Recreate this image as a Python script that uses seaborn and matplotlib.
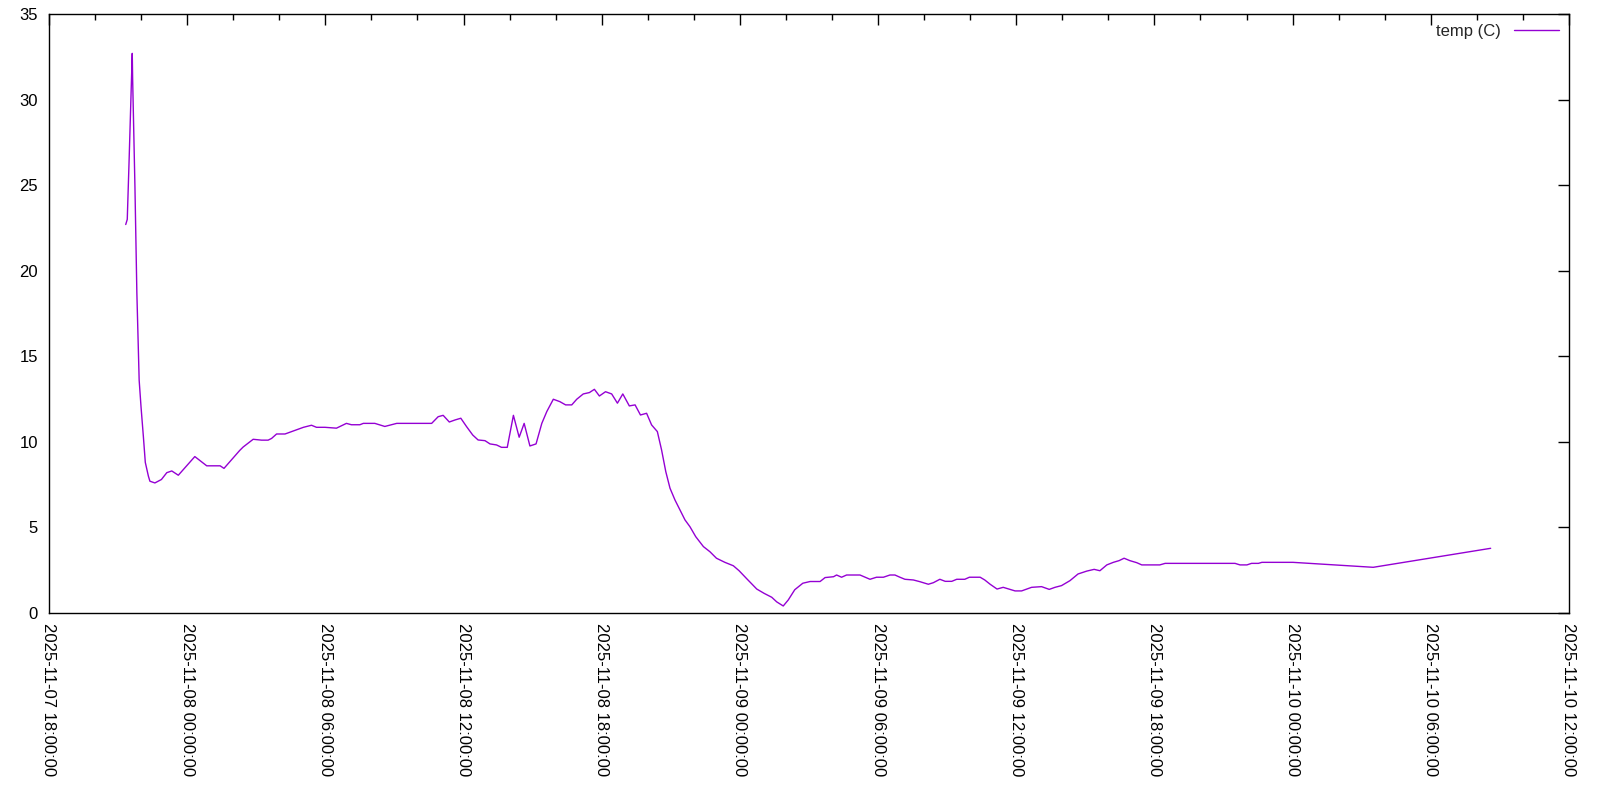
import pandas as pd
import seaborn as sns
import matplotlib.pyplot as plt
import matplotlib.dates as mdates

# gnuplot-like look
sns.set_style("white")
plt.rcParams['font.family'] = ['Liberation Sans', 'DejaVu Sans']
plt.rcParams['font.size'] = 12

# Readings
times = [
    "2025-11-07 21:20", "2025-11-07 21:24", "2025-11-07 21:29", "2025-11-07 21:37",
    "2025-11-07 21:38", "2025-11-07 21:44", "2025-11-07 21:49", "2025-11-07 21:55",
    "2025-11-07 22:00", "2025-11-07 22:06", "2025-11-07 22:11", "2025-11-07 22:19",
    "2025-11-07 22:23", "2025-11-07 22:36", "2025-11-07 22:53", "2025-11-07 23:07",
    "2025-11-07 23:20", "2025-11-07 23:37",
    "2025-11-08 00:20", "2025-11-08 00:51", "2025-11-08 01:26", "2025-11-08 01:36",
    "2025-11-08 02:17", "2025-11-08 02:26", "2025-11-08 02:52", "2025-11-08 03:14",
    "2025-11-08 03:31", "2025-11-08 03:40", "2025-11-08 03:53", "2025-11-08 04:15",
    "2025-11-08 04:45", "2025-11-08 05:03", "2025-11-08 05:24", "2025-11-08 05:37",
    "2025-11-08 05:59", "2025-11-08 06:29", "2025-11-08 06:55", "2025-11-08 07:08",
    "2025-11-08 07:30", "2025-11-08 07:39", "2025-11-08 08:09", "2025-11-08 08:35",
    "2025-11-08 09:06", "2025-11-08 10:37", "2025-11-08 10:54", "2025-11-08 11:07",
    "2025-11-08 11:23", "2025-11-08 11:38", "2025-11-08 11:53", "2025-11-08 12:08",
    "2025-11-08 12:24", "2025-11-08 12:38", "2025-11-08 12:56", "2025-11-08 13:09",
    "2025-11-08 13:26", "2025-11-08 13:39", "2025-11-08 13:54", "2025-11-08 14:10",
    "2025-11-08 14:25", "2025-11-08 14:38", "2025-11-08 14:53", "2025-11-08 15:09",
    "2025-11-08 15:24", "2025-11-08 15:37", "2025-11-08 15:54", "2025-11-08 16:11",
    "2025-11-08 16:26", "2025-11-08 16:42", "2025-11-08 16:55", "2025-11-08 17:12",
    "2025-11-08 17:28", "2025-11-08 17:41", "2025-11-08 17:54", "2025-11-08 18:10",
    "2025-11-08 18:26", "2025-11-08 18:41", "2025-11-08 18:55", "2025-11-08 19:12",
    "2025-11-08 19:27", "2025-11-08 19:41", "2025-11-08 19:57", "2025-11-08 20:10",
    "2025-11-08 20:25", "2025-11-08 20:36", "2025-11-08 20:47", "2025-11-08 20:58",
    "2025-11-08 21:11", "2025-11-08 21:24", "2025-11-08 21:37", "2025-11-08 21:50",
    "2025-11-08 22:05", "2025-11-08 22:25", "2025-11-08 22:42", "2025-11-08 22:59",
    "2025-11-08 23:21", "2025-11-08 23:43", "2025-11-08 23:58",
    "2025-11-09 00:18", "2025-11-09 00:44", "2025-11-09 01:03", "2025-11-09 01:23",
    "2025-11-09 01:36", "2025-11-09 01:53", "2025-11-09 02:06", "2025-11-09 02:23",
    "2025-11-09 02:44", "2025-11-09 03:03", "2025-11-09 03:29", "2025-11-09 03:42",
    "2025-11-09 04:04", "2025-11-09 04:12", "2025-11-09 04:25", "2025-11-09 04:38",
    "2025-11-09 05:13", "2025-11-09 05:39", "2025-11-09 05:56", "2025-11-09 06:14",
    "2025-11-09 06:31", "2025-11-09 06:44", "2025-11-09 06:57", "2025-11-09 07:10",
    "2025-11-09 07:32", "2025-11-09 07:49", "2025-11-09 08:11", "2025-11-09 08:24",
    "2025-11-09 08:41", "2025-11-09 08:55", "2025-11-09 09:12", "2025-11-09 09:25",
    "2025-11-09 09:46", "2025-11-09 09:58", "2025-11-09 10:26", "2025-11-09 10:38",
    "2025-11-09 10:52", "2025-11-09 11:10", "2025-11-09 11:26", "2025-11-09 11:44",
    "2025-11-09 11:57", "2025-11-09 12:14", "2025-11-09 12:40", "2025-11-09 13:06",
    "2025-11-09 13:26", "2025-11-09 13:41", "2025-11-09 13:58", "2025-11-09 14:20",
    "2025-11-09 14:41", "2025-11-09 15:04", "2025-11-09 15:23", "2025-11-09 15:38",
    "2025-11-09 15:56", "2025-11-09 16:13", "2025-11-09 16:28", "2025-11-09 16:41",
    "2025-11-09 16:56", "2025-11-09 17:14", "2025-11-09 17:27", "2025-11-09 18:14",
    "2025-11-09 18:28", "2025-11-09 21:30", "2025-11-09 21:43", "2025-11-09 22:01",
    "2025-11-09 22:13", "2025-11-09 22:31", "2025-11-09 22:40",
    "2025-11-10 00:01", "2025-11-10 03:30", "2025-11-10 08:36",
]
temps = [
    22.7, 23.0, 26.6, 32.7, 31.2, 24.9, 18.7, 13.6,
    12.0, 10.3, 8.8, 8.0, 7.7, 7.6, 7.8, 8.2,
    8.3, 8.05,
    9.14, 8.6, 8.6, 8.45, 9.5, 9.7, 10.15, 10.1,
    10.1, 10.2, 10.46, 10.46, 10.7, 10.85, 10.97, 10.85,
    10.85, 10.8, 11.08, 11.0, 11.0, 11.08, 11.08, 10.9,
    11.08, 11.08, 11.47, 11.55, 11.16, 11.28, 11.38, 10.89,
    10.40, 10.11, 10.07, 9.88, 9.82, 9.68, 9.68, 11.55,
    10.27, 11.08, 9.76, 9.88, 11.08, 11.77, 12.49, 12.35,
    12.16, 12.16, 12.49, 12.80, 12.88, 13.07, 12.68, 12.93,
    12.80, 12.26, 12.80, 12.10, 12.16, 11.57, 11.67, 10.99,
    10.60, 9.53, 8.26, 7.29, 6.60, 6.02, 5.44, 5.04,
    4.46, 3.88, 3.58, 3.20, 2.96, 2.76, 2.47,
    2.0, 1.40, 1.15, 0.92, 0.65, 0.41, 0.76, 1.36,
    1.74, 1.84, 1.84, 2.07, 2.12, 2.22, 2.09, 2.22,
    2.22, 1.97, 2.09, 2.09, 2.22, 2.22, 2.09, 1.97,
    1.93, 1.83, 1.68, 1.77, 1.97, 1.85, 1.85, 1.97,
    1.97, 2.09, 2.09, 1.93, 1.68, 1.40, 1.50, 1.38,
    1.29, 1.29, 1.50, 1.54, 1.38, 1.50, 1.60, 1.89,
    2.28, 2.45, 2.55, 2.47, 2.81, 2.96, 3.06, 3.20,
    3.06, 2.94, 2.81, 2.81, 2.90, 2.90, 2.81, 2.81,
    2.90, 2.90, 2.96,
    2.96, 2.67, 3.78,
]

df = pd.DataFrame({'time': pd.to_datetime(times), 'temp': temps})

fig = plt.figure(figsize=(16, 8), dpi=100)
ax = fig.add_axes([0.0306, 0.23375, 0.95, 0.74875])

sns.lineplot(data=df, x='time', y='temp', ax=ax, color='#9400D3',
             linewidth=1, label='temp (C)')

ax.set_xlim(pd.Timestamp('2025-11-07 18:00'), pd.Timestamp('2025-11-10 12:00'))
ax.set_ylim(0, 35)
ax.set_yticks(range(0, 36, 5))
ax.xaxis.set_major_locator(mdates.HourLocator(byhour=[0, 6, 12, 18]))
ax.xaxis.set_minor_locator(mdates.HourLocator(interval=2))
ax.xaxis.set_major_formatter(mdates.DateFormatter('%Y-%m-%d %H:%M:%S'))
ax.set_xlabel('')
ax.set_ylabel('')

for s in ax.spines.values():
    s.set_color('black')
    s.set_linewidth(1)
ax.tick_params(which='both', direction='in', top=True, right=True,
               color='black', width=1, labelcolor='black', labelsize=12)
ax.tick_params(which='major', length=8)
ax.tick_params(which='minor', length=4)
ax.tick_params(axis='y', pad=8)
ax.tick_params(axis='x', pad=7)
plt.setp(ax.get_xticklabels(), rotation=-90, ha='center', va='top')

ax.legend(loc='upper right', frameon=False, markerfirst=False,
          handlelength=2.7, fontsize=12, borderaxespad=0.2)

fig.savefig('out.png', dpi=100)
